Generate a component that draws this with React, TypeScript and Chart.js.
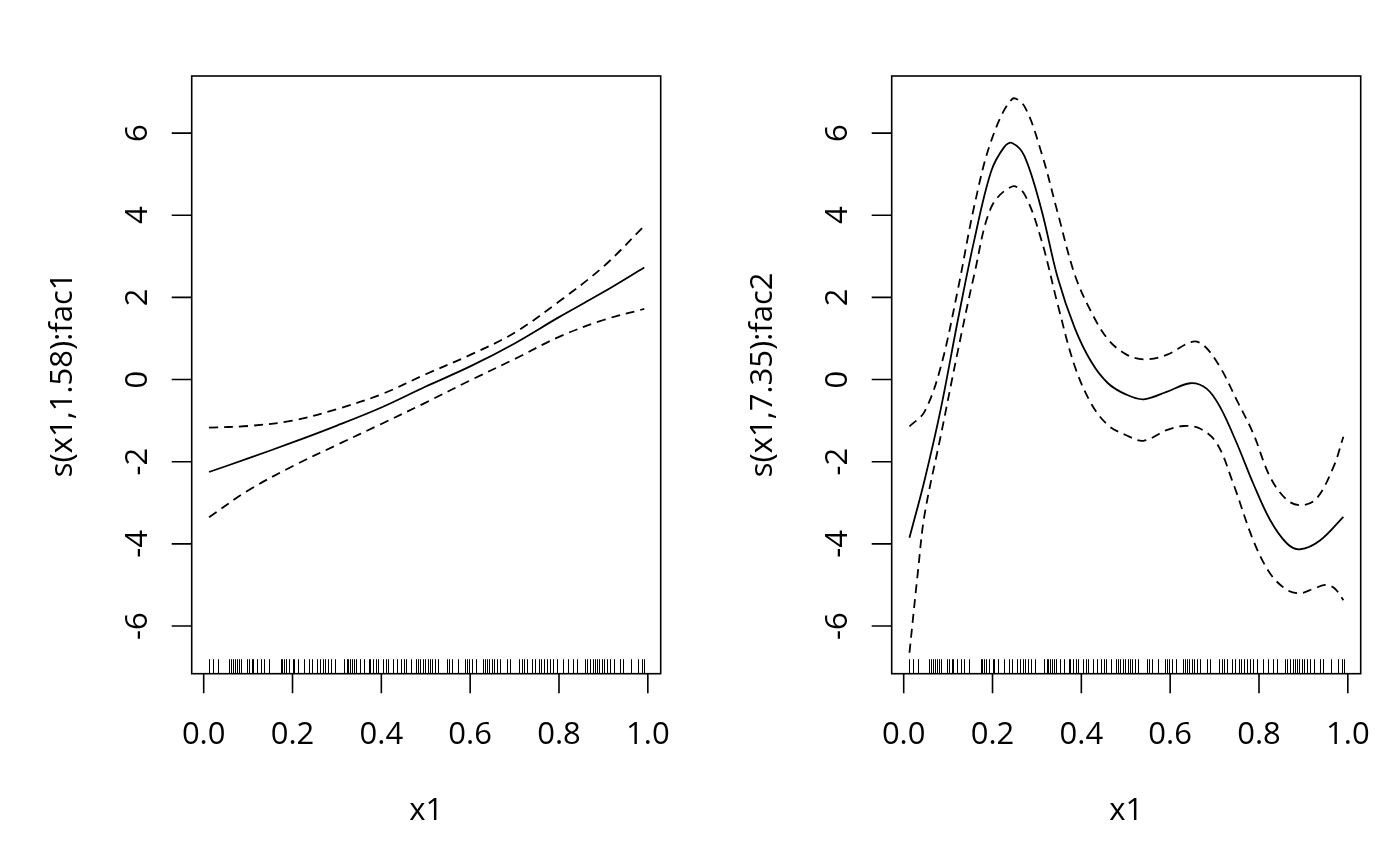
import { Chart, registerables, type ChartConfiguration, type Plugin } from 'chart.js'
import { useEffect, useRef } from 'react'

Chart.register(...registerables)

// shared tick positions
const xTicks = [0, 0.2, 0.4, 0.6, 0.8, 1.0]
const yTicks = [-6, -4, -2, 0, 2, 4, 6]

// observed x1 values (rug along the bottom of both panels)
const rugX = [
  0.013, 0.02, 0.032, 0.058, 0.061, 0.066, 0.07, 0.075, 0.079, 0.084, 0.098, 0.102, 0.108, 0.111,
  0.121, 0.128, 0.136, 0.147, 0.173, 0.177, 0.181, 0.186, 0.192, 0.2, 0.204, 0.213, 0.226, 0.238,
  0.243, 0.256, 0.262, 0.268, 0.274, 0.279, 0.286, 0.296, 0.317, 0.322, 0.326, 0.329, 0.334, 0.339,
  0.343, 0.351, 0.362, 0.372, 0.375, 0.381, 0.387, 0.392, 0.403, 0.41, 0.415, 0.426, 0.435, 0.445,
  0.45, 0.456, 0.467, 0.477, 0.483, 0.488, 0.493, 0.498, 0.504, 0.51, 0.513, 0.521, 0.528, 0.547,
  0.553, 0.558, 0.573, 0.588, 0.592, 0.598, 0.603, 0.613, 0.628, 0.634, 0.637, 0.643, 0.649, 0.654,
  0.66, 0.667, 0.682, 0.69, 0.711, 0.716, 0.722, 0.728, 0.739, 0.746, 0.754, 0.759, 0.766, 0.774,
  0.78, 0.787, 0.795, 0.81, 0.821, 0.832, 0.84, 0.859, 0.864, 0.87, 0.876, 0.881, 0.886, 0.891,
  0.896, 0.901, 0.907, 0.915, 0.924, 0.937, 0.945, 0.962, 0.979, 0.986, 0.992,
]

// panel 1: s(x1,1.58):fac1
const fac1X = [0.012, 0.1, 0.2, 0.3, 0.4, 0.5, 0.6, 0.7, 0.8, 0.9, 0.992]
const fac1Fit = [-2.25, -1.92, -1.53, -1.12, -0.68, -0.17, 0.32, 0.88, 1.52, 2.13, 2.73]
const fac1Upper = [-1.17, -1.13, -1.0, -0.72, -0.36, 0.13, 0.6, 1.14, 1.9, 2.75, 3.74]
const fac1Lower = [-3.35, -2.7, -2.11, -1.59, -1.08, -0.56, -0.02, 0.5, 1.04, 1.45, 1.72]

// panel 2: s(x1,7.35):fac2
const fac2FitX = [
  0.013, 0.047, 0.084, 0.122, 0.159, 0.197, 0.227, 0.244, 0.272, 0.31, 0.347, 0.385, 0.423, 0.46,
  0.5, 0.54, 0.592, 0.645, 0.682, 0.712, 0.75, 0.787, 0.825, 0.863, 0.893, 0.938, 0.99,
]
const fac2Fit = [
  -3.85, -2.45, -0.69, 1.45, 3.4, 5.07, 5.67, 5.76, 5.44, 4.14, 2.47, 1.26, 0.42, -0.09, -0.36,
  -0.48, -0.3, -0.09, -0.22, -0.66, -1.55, -2.53, -3.42, -3.99, -4.13, -3.91, -3.34,
]
const fac2UpperX = [
  0.013, 0.047, 0.084, 0.122, 0.159, 0.197, 0.244, 0.272, 0.31, 0.347, 0.385, 0.423, 0.46, 0.5,
  0.54, 0.592, 0.649, 0.675, 0.712, 0.75, 0.787, 0.825, 0.863, 0.896, 0.93, 0.968, 0.99,
]
const fac2Upper = [
  -1.14, -0.78, 0.33, 2.19, 4.23, 5.81, 6.83, 6.65, 5.53, 4.05, 2.56, 1.63, 0.98, 0.62, 0.49, 0.6,
  0.92, 0.84, 0.31, -0.5, -1.31, -2.37, -2.93, -3.06, -2.89, -2.12, -1.39,
]
const fac2LowerX = [
  0.013, 0.032, 0.047, 0.084, 0.122, 0.159, 0.197, 0.244, 0.272, 0.31, 0.347, 0.385, 0.423, 0.46,
  0.5, 0.54, 0.592, 0.63, 0.667, 0.705, 0.742, 0.787, 0.825, 0.863, 0.893, 0.925, 0.95, 0.97, 0.99,
]
const fac2Lower = [
  -6.65, -4.68, -3.29, -1.34, 0.7, 2.56, 4.19, 4.7, 4.51, 3.4, 1.82, 0.33, -0.6, -1.11, -1.35,
  -1.49, -1.23, -1.13, -1.19, -1.55, -2.53, -3.91, -4.72, -5.12, -5.2, -5.08, -5.0, -5.08, -5.37,
]

const FONT = '31px "Open Sans", "Noto Sans", sans-serif'

const toPoints = (xs: number[], ys: number[]) => xs.map((x, i) => ({ x, y: ys[i] }))

const line = (xs: number[], ys: number[], dashed: boolean) => ({
  data: toPoints(xs, ys),
  showLine: true,
  borderColor: '#000',
  borderWidth: 1.8,
  borderDash: dashed ? [9, 6] : [],
  pointRadius: 0,
  tension: 0.35,
})

// draws the R-style frame, ticks, labels and rug from the chart's own scales
const rFrame = (yTitle: string): Plugin<'scatter'> => ({
  id: 'rFrame',
  afterDraw(chart) {
    const { ctx, chartArea: a, scales } = chart
    const xs = scales.x
    const ys = scales.y
    ctx.save()
    ctx.strokeStyle = '#000'
    ctx.fillStyle = '#000'
    ctx.lineWidth = 1.6
    ctx.strokeRect(a.left, a.top, a.right - a.left, a.bottom - a.top)

    ctx.beginPath()
    for (const v of xTicks) {
      const px = xs.getPixelForValue(v)
      ctx.moveTo(px, a.bottom)
      ctx.lineTo(px, a.bottom + 19.6)
    }
    for (const v of yTicks) {
      const py = ys.getPixelForValue(v)
      ctx.moveTo(a.left, py)
      ctx.lineTo(a.left - 20, py)
    }
    ctx.stroke()

    ctx.lineWidth = 1
    ctx.beginPath()
    for (const v of rugX) {
      const px = Math.round(xs.getPixelForValue(v)) + 0.5
      ctx.moveTo(px, a.bottom)
      ctx.lineTo(px, a.bottom - 14.5)
    }
    ctx.stroke()

    ctx.font = FONT
    ctx.textAlign = 'center'
    ctx.textBaseline = 'alphabetic'
    for (const v of xTicks) {
      ctx.fillText(v.toFixed(1), xs.getPixelForValue(v), a.bottom + 70)
    }
    ctx.fillText('x1', (a.left + a.right) / 2, a.bottom + 146)

    for (const v of yTicks) {
      ctx.save()
      ctx.translate(a.left - 45, ys.getPixelForValue(v))
      ctx.rotate(-Math.PI / 2)
      ctx.fillText(String(v), 0, 0)
      ctx.restore()
    }
    ctx.save()
    ctx.translate(a.left - 120, (a.top + a.bottom) / 2)
    ctx.rotate(-Math.PI / 2)
    ctx.fillText(yTitle, 0, 0)
    ctx.restore()
    ctx.restore()
  },
})

const makeConfig = (
  datasets: ReturnType<typeof line>[],
  yTitle: string,
): ChartConfiguration<'scatter'> => ({
  type: 'scatter',
  data: { datasets },
  options: {
    animation: false,
    responsive: true,
    maintainAspectRatio: false,
    events: [],
    layout: { padding: { left: 191.7, right: 39.3, top: 76, bottom: 192.3 } },
    plugins: { legend: { display: false }, tooltip: { enabled: false } },
    scales: {
      x: { type: 'linear', min: -0.027, max: 1.029, display: false },
      y: { type: 'linear', min: -7.16, max: 7.39, display: false },
    },
  },
  plugins: [rFrame(yTitle)],
})

function Panel({ left, config }: { left: number; config: ChartConfiguration<'scatter'> }) {
  const canvasRef = useRef<HTMLCanvasElement | null>(null)

  useEffect(() => {
    if (!canvasRef.current) {
      return
    }
    const chart = new Chart(canvasRef.current, config)
    return () => {
      chart.destroy()
    }
  }, [config])

  return (
    <div style={{ position: 'absolute', left, top: 0, width: 700, height: 866 }}>
      <canvas ref={canvasRef} />
    </div>
  )
}

const leftConfig = makeConfig(
  [line(fac1X, fac1Fit, false), line(fac1X, fac1Upper, true), line(fac1X, fac1Lower, true)],
  's(x1,1.58):fac1',
)
const rightConfig = makeConfig(
  [
    line(fac2FitX, fac2Fit, false),
    line(fac2UpperX, fac2Upper, true),
    line(fac2LowerX, fac2Lower, true),
  ],
  's(x1,7.35):fac2',
)

export default function App() {
  return (
    <div
      style={{
        position: 'absolute',
        left: 0,
        top: 0,
        width: 1400,
        height: 866,
        background: '#fff',
      }}
    >
      <Panel left={0} config={leftConfig} />
      <Panel left={700} config={rightConfig} />
    </div>
  )
}
